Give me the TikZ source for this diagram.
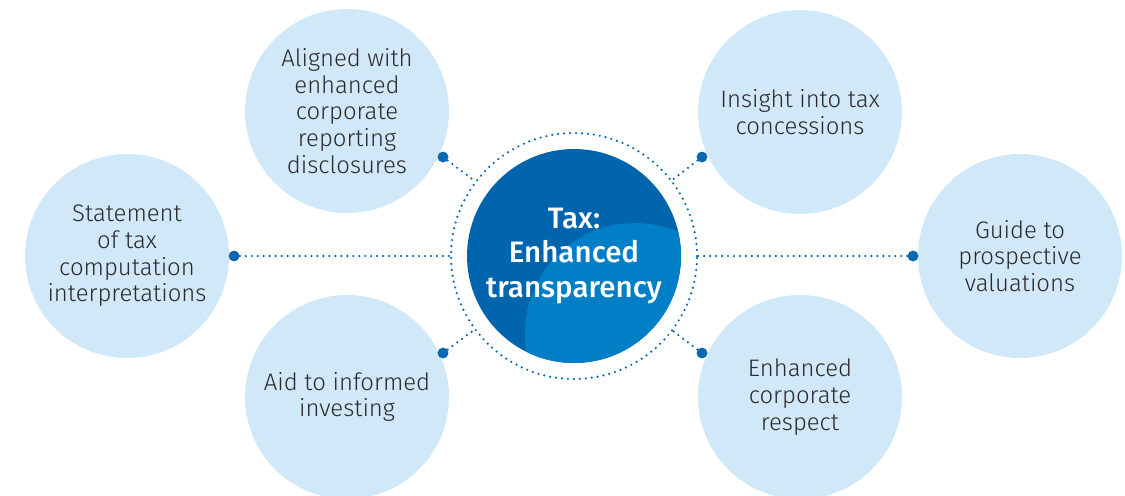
\documentclass[tikz,border=0pt]{standalone}
\usepackage{fontspec}
\setmainfont{Fira Sans}[UprightFont={* Light}, BoldFont={* Medium}]
\usepackage{tikz}
\usetikzlibrary{calc}
\definecolor{pale}{HTML}{D0E8F7}
\definecolor{deep}{HTML}{0065AC}
\definecolor{mid}{HTML}{007FC7}
\definecolor{dotc}{HTML}{0A68B0}
\definecolor{ink}{HTML}{2A2A2A}
\tikzset{
  bubble/.style={circle, fill=pale, minimum size=4.08cm, inner sep=0pt, align=center,
    text=ink, font=\fontsize{13.6}{15.2}\selectfont},
  knob/.style={circle, fill=dotc, minimum size=6.2pt, inner sep=0pt},
  dotline/.style={draw=dotc, line width=1.4pt, line cap=round, dash pattern=on 0pt off 3.4pt},
  hub/.style={text=white, align=center, font=\bfseries\fontsize{16.8}{19.4}\selectfont}
}

\begin{document}
\begin{tikzpicture}[x=0.02cm, y=-0.02cm]
  \useasboundingbox (0,0) rectangle (1125,495);
  \clip (0,0) rectangle (1125,495);

  \def\rin{2.14cm}
  \def\rring{2.46cm}
  \coordinate (O) at (574,256);

  % Outer bubbles
  \node[bubble] (align) at (347,111) {Aligned with\\enhanced\\corporate\\reporting\\disclosures};
  \node[bubble] (insight) at (800,112) {Insight into tax\\concessions};
  \node[bubble] (stmt) at (127,256) {Statement\\of tax\\computation\\interpretations};
  \node[bubble] (guide) at (1020,256) {Guide to\\prospective\\valuations};
  \node[bubble] (aid) at (347,397) {Aid to informed\\investing};
  \node[bubble] (respect) at (800,397) {Enhanced\\corporate\\respect};

  % Hub (dark disc, lighter disc clipped inside)
  \fill[deep] (O) circle (\rin);
  \begin{scope}
    \clip (O) circle (\rin);
    \fill[mid] (635,333) circle (2.2cm);
  \end{scope}
  \draw[dotline] (O) circle (\rring);
  \node[hub] (hub) at (O) {Tax:\\Enhanced\\transparency};

  % Connectors from the ring out to the bubbles
  \node[knob] (kalign) at (443,157) {};
  \node[knob] (kinsight) at (702,157) {};
  \node[knob] (kstmt) at (234,256) {};
  \node[knob] (kguide) at (913,256) {};
  \node[knob] (kaid) at (443,353) {};
  \node[knob] (krespect) at (702,353) {};

  \foreach \k in {kalign,kinsight,kstmt,kguide,kaid,krespect}
    \draw[dotline] (\k) -- ($(O)!\rring!(\k)$);
\end{tikzpicture}
\end{document}
